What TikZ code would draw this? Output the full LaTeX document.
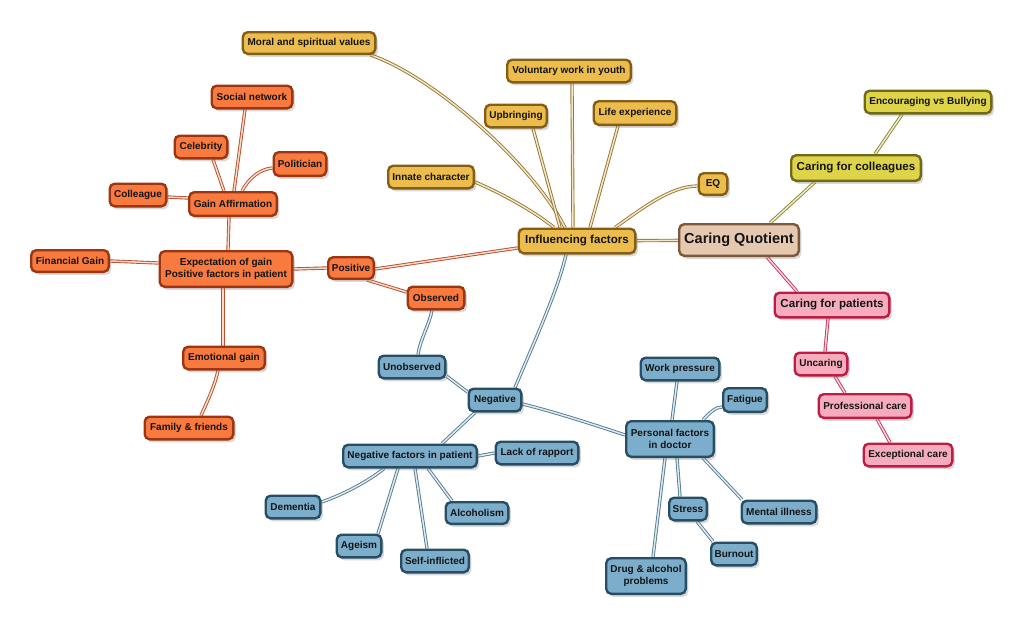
\documentclass[tikz,border=0pt]{standalone}
\usepackage{fontspec}
\setmainfont{Liberation Sans}
\usetikzlibrary{shadows,calc}
\pgfdeclarelayer{bg}
\pgfsetlayers{bg,main}
\definecolor{goldF}{RGB}{236,188,76}
\definecolor{goldD}{RGB}{132,94,20}
\definecolor{goldC}{RGB}{150,118,50}
\definecolor{goldL}{RGB}{244,232,200}
\definecolor{tanF}{RGB}{228,200,176}
\definecolor{tanD}{RGB}{126,88,56}
\definecolor{oliF}{RGB}{222,212,74}
\definecolor{oliD}{RGB}{112,106,24}
\definecolor{oliC}{RGB}{138,132,52}
\definecolor{oliL}{RGB}{240,238,200}
\definecolor{pinkF}{RGB}{246,172,188}
\definecolor{pinkD}{RGB}{190,28,68}
\definecolor{pinkC}{RGB}{196,52,88}
\definecolor{pinkL}{RGB}{250,214,224}
\definecolor{oraF}{RGB}{248,122,62}
\definecolor{oraD}{RGB}{156,54,18}
\definecolor{oraC}{RGB}{184,78,46}
\definecolor{oraL}{RGB}{250,218,200}
\definecolor{bluF}{RGB}{124,174,204}
\definecolor{bluD}{RGB}{40,78,102}
\definecolor{bluC}{RGB}{84,122,144}
\definecolor{bluL}{RGB}{222,235,243}
\tikzset{
  box/.style={rounded corners=5pt, line width=2.4pt, inner sep=0pt, align=center,
    font=\bfseries\fontsize{10}{11.5}\selectfont, text=black!92,
    drop shadow={shadow xshift=2.5pt, shadow yshift=-3pt, opacity=0.3}},
  sz/.style 2 args={minimum width=#1-2.4, minimum height=#2-2.4},
  big/.style={font=\bfseries\fontsize{11.6}{13}\selectfont},
  goldbox/.style={box, fill=goldF, draw=goldD},
  tanbox/.style={box, fill=tanF, draw=tanD, font=\bfseries\fontsize{14.5}{16}\selectfont},
  olibox/.style={box, fill=oliF, draw=oliD},
  pinkbox/.style={box, fill=pinkF, draw=pinkD},
  orabox/.style={box, fill=oraF, draw=oraD},
  blubox/.style={box, fill=bluF, draw=bluD},
  conn/.style={line width=0.9pt, double distance=1.5pt},
  gc/.style={conn, draw=goldC, double=goldL},
  oc/.style={conn, draw=oliC, double=oliL},
  pc/.style={conn, draw=pinkC, double=pinkL},
  rc/.style={conn, draw=oraC, double=oraL},
  bc/.style={conn, draw=bluC, double=bluL},
}
\begin{document}
\begin{tikzpicture}[x=1pt,y=-1pt]
\useasboundingbox (0,0) rectangle (1024,627);
% gold
\node[goldbox, big, sz={119}{27}] (inf) at (577,241) {Influencing factors};
\node[tanbox, sz={122}{34}] (cq) at (739,240) {Caring Quotient};
\node[goldbox, sz={135}{24}] (moral) at (309,43) {Moral and spiritual values};
\node[goldbox, sz={126}{25}] (vol) at (569,71) {Voluntary work in youth};
\node[goldbox, sz={64}{25}] (upb) at (516,116) {Upbringing};
\node[goldbox, sz={85}{26}] (life) at (635,113) {Life experience};
\node[goldbox, sz={88}{25}] (innate) at (431,177) {Innate character};
\node[goldbox, sz={31}{24}] (eq) at (713,184) {EQ};
% olive
\node[olibox, sz={129}{25}] (enc) at (928,102) {Encouraging vs Bullying};
\node[olibox, big, sz={132}{28}] (col) at (856,168) {Caring for colleagues};
% pink
\node[pinkbox, big, sz={117}{27}] (cfp) at (832,305) {Caring for patients};
\node[pinkbox, sz={55}{25}] (unc) at (821,364) {Uncaring};
\node[pinkbox, sz={95}{26}] (prof) at (865,406) {Professional care};
\node[pinkbox, sz={91}{25}] (exc) at (908,455) {Exceptional care};
% orange
\node[orabox, sz={48}{24}] (pos) at (351,268) {Positive};
\node[orabox, sz={59}{25}] (obs) at (436,298) {Observed};
\node[orabox, sz={135}{38}] (exp) at (226,269) {Expectation of gain\\Positive factors in patient};
\node[orabox, sz={80}{24}] (fin) at (70,261) {Financial Gain};
\node[orabox, sz={90}{26}] (ga) at (233,204) {Gain Affirmation};
\node[orabox, sz={59}{25}] (colg) at (138,195) {Colleague};
\node[orabox, sz={55}{25}] (cel) at (201,147) {Celebrity};
\node[orabox, sz={83}{25}] (soc) at (252,97) {Social network};
\node[orabox, sz={55}{26}] (pol) at (300,164) {Politician};
\node[orabox, sz={84}{25}] (emo) at (224,358) {Emotional gain};
\node[orabox, sz={91}{25}] (fam) at (189,428) {Family \& friends};
% blue
\node[blubox, sz={69}{25}] (unobs) at (412,367) {Unobserved};
\node[blubox, sz={55}{25}] (neg) at (495,400) {Negative};
\node[blubox, sz={136}{25}] (nfp) at (410,456) {Negative factors in patient};
\node[blubox, sz={85}{25}] (lack) at (537,453) {Lack of rapport};
\node[blubox, sz={57}{25}] (dem) at (293,507) {Dementia};
\node[blubox, sz={47}{25}] (age) at (359,546) {Ageism};
\node[blubox, sz={70}{25}] (self) at (435,561) {Self-inflicted};
\node[blubox, sz={65}{24}] (alc) at (477,513) {Alcoholism};
\node[blubox, sz={90}{38}] (pfd) at (670,439) {Personal factors\\in doctor};
\node[blubox, sz={81}{25}] (work) at (680,369) {Work pressure};
\node[blubox, sz={46}{26}] (fat) at (745,400) {Fatigue};
\node[blubox, sz={40}{25}] (stress) at (688,509) {Stress};
\node[blubox, sz={77}{25}] (ment) at (779,512) {Mental illness};
\node[blubox, sz={48}{25}] (burn) at (734,554) {Burnout};
\node[blubox, sz={82}{38}] (drug) at (646,576) {Drug \& alcohol\\problems};

\begin{pgfonlayer}{bg}
% gold connectors
\draw[gc] (inf) -- (cq);
\draw[gc] ($(inf.north)+(-12,0)$) .. controls (530,160) and (430,75) .. ($(moral.south east)+(-6,0)$);
\draw[gc] ($(inf.north)+(-4,0)$) -- ($(vol.south)+(3,0)$);
\draw[gc] ($(inf.north)+(-17,0)$) -- ($(upb.south)+(17,0)$);
\draw[gc] ($(inf.north)+(13,0)$) -- ($(life.south)+(-17,0)$);
\draw[gc] ($(inf.north)+(-23,0)$) .. controls (535,212) and (505,195) .. ($(innate.east)+(0,5)$);
\draw[gc] ($(inf.north)+(38,0)$) .. controls (640,210) and (670,186) .. ($(eq.west)+(0,2)$);
% olive
\draw[oc] ($(cq.north)+(31,0)$) -- ($(col.south)+(-41,0)$);
\draw[oc] ($(col.north)+(19,0)$) -- ($(enc.south)+(-26,0)$);
% pink
\draw[pc] ($(cq.south)+(28,0)$) -- ($(cfp.north)+(-35,0)$);
\draw[pc] ($(cfp.south)+(-4,0)$) -- ($(unc.north)+(4,0)$);
\draw[pc] ($(unc.south)+(14,0)$) -- ($(prof.north)+(-20,0)$);
\draw[pc] ($(prof.south)+(12,0)$) -- ($(exc.north)+(-18,0)$);
% orange
\draw[rc] ($(inf.west)+(0,7)$) -- ($(pos.east)+(0,1)$);
\draw[rc] ($(pos.south east)+(-8,0)$) -- ($(obs.west)+(0,-6)$);
\draw[rc] (exp.east) -- (pos.west);
\draw[rc] ($(exp.west)+(0,-6)$) -- (fin.east);
\draw[rc] ($(exp.north)+(2,0)$) -- ($(ga.south)+(-4,0)$);
\draw[rc] ($(exp.south)+(-3,0)$) -- ($(emo.north)+(-1,0)$);
\draw[rc] ($(emo.south)+(-6,0)$) .. controls (215,385) and (208,400) .. ($(fam.north)+(12,0)$);
\draw[rc] ($(ga.west)+(0,-6)$) -- ($(colg.east)+(0,2)$);
\draw[rc] ($(ga.north)+(-9,0)$) -- ($(cel.south)+(12,0)$);
\draw[rc] ($(ga.north)+(1,0)$) -- ($(soc.south)+(-7,0)$);
\draw[rc] ($(ga.north)+(9,0)$) .. controls (249,178) and (260,169) .. ($(pol.west)+(0,4)$);
% blue
\draw[bc] ($(inf.south)+(-11,0)$) .. controls (558,290) and (535,340) .. ($(neg.north)+(20,0)$);
\draw[bc] ($(obs.south)+(-4,0)$) .. controls (429,325) and (420,340) .. ($(unobs.north)+(6,0)$);
\draw[bc] ($(unobs.east)+(0,9)$) -- ($(neg.west)+(0,-8)$);
\draw[bc] ($(neg.south)+(-20,0)$) -- ($(nfp.north)+(32,0)$);
\draw[bc] ($(neg.east)+(0,4)$) .. controls (555,412) and (595,425) .. ($(pfd.west)+(0,-4)$);
\draw[bc] (nfp.east) -- (lack.west);
\draw[bc] ($(nfp.south)+(-26,0)$) .. controls (370,480) and (345,494) .. ($(dem.east)+(0,-5)$);
\draw[bc] ($(nfp.south)+(-12,0)$) -- ($(age.north)+(19,0)$);
\draw[bc] ($(nfp.south)+(5,0)$) -- ($(self.north)+(-8,0)$);
\draw[bc] ($(nfp.south)+(18,0)$) -- ($(alc.north)+(-25,0)$);
\draw[bc] ($(pfd.north)+(2,0)$) -- ($(work.south)+(-3,0)$);
\draw[bc] ($(pfd.north)+(33,0)$) .. controls (710,412) and (716,407) .. ($(fat.west)+(0,7)$);
\draw[bc] ($(pfd.south)+(7,0)$) -- ($(stress.north)+(-8,0)$);
\draw[bc] ($(pfd.south)+(33,0)$) -- ($(ment.north)+(-37,0)$);
\draw[bc] ($(pfd.south)+(-5,0)$) -- ($(drug.north)+(7,0)$);
\draw[bc] ($(stress.south)+(9,0)$) -- ($(burn.north)+(-21,0)$);
\end{pgfonlayer}
\end{tikzpicture}
\end{document}
